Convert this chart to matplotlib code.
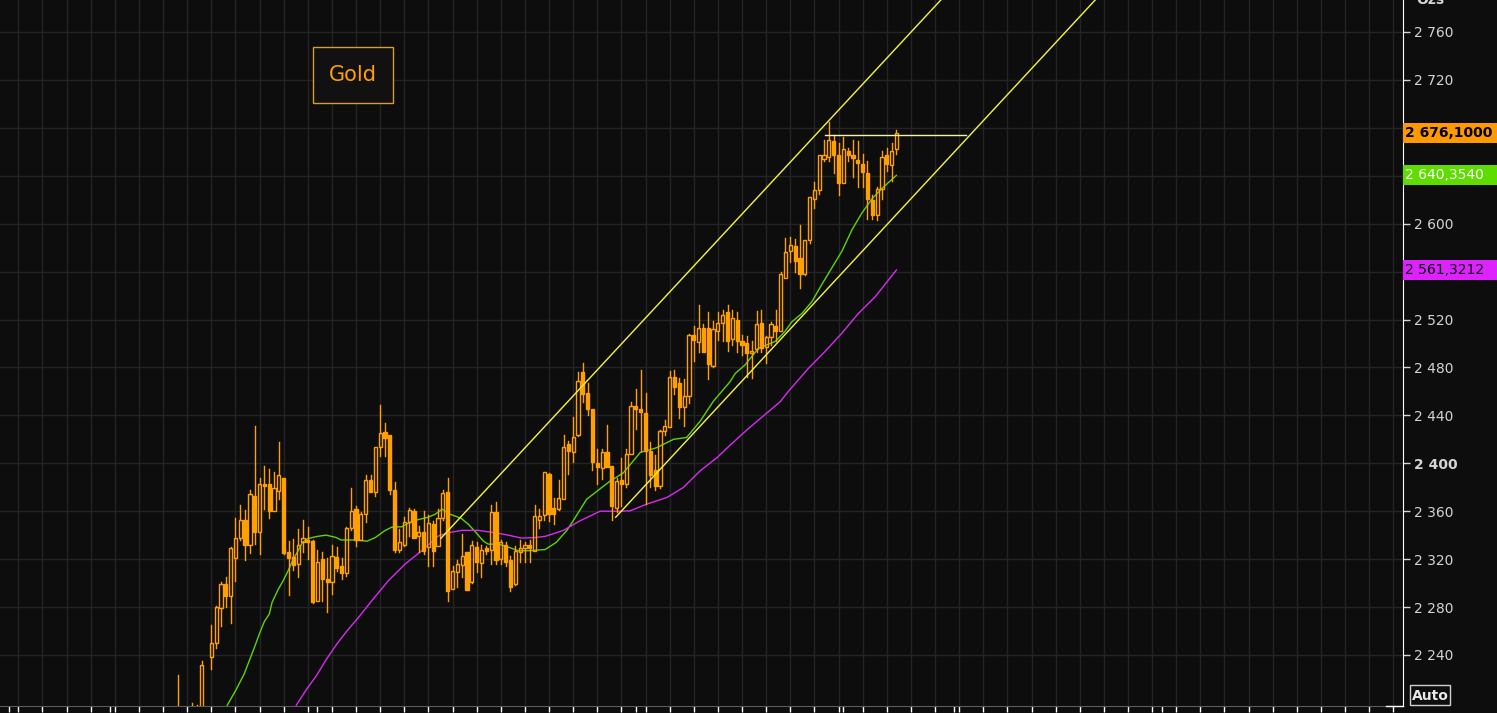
import numpy as np
import pandas as pd
import matplotlib
matplotlib.use("Agg")
import matplotlib.pyplot as plt
from matplotlib.patches import Rectangle
from matplotlib.lines import Line2D
from matplotlib.transforms import blended_transform_factory

# XAU/USD daily candles, 21 Mar - 16 Oct 2024 (no session on Good Friday)
dates = pd.bdate_range("2024-03-21", "2024-10-16").drop(pd.Timestamp("2024-03-29"))

opens = [2186, 2181, 2165, 2172, 2179, 2195,
         2238, 2250, 2279, 2299, 2289, 2321, 2338, 2353, 2332, 2373, 2343, 2383, 2383, 2360, 2377, 2388, 2326, 2322, 2316, 2334, 2336, 2335,
         2285, 2320, 2303, 2301, 2322, 2314, 2308, 2346, 2362, 2336, 2358, 2386, 2376, 2414, 2426, 2424, 2378, 2328, 2332, 2351, 2360, 2339, 2343,
         2330, 2349, 2331, 2354, 2376, 2295, 2309, 2315, 2326, 2301, 2330, 2317, 2329, 2328, 2359, 2320, 2332, 2319, 2299, 2326,
         2329, 2332, 2327, 2353, 2357, 2391, 2363, 2362, 2370, 2416, 2409, 2424, 2476, 2459, 2445, 2400, 2396, 2409, 2398, 2363, 2386, 2383, 2408,
         2448, 2445, 2442, 2410, 2394, 2381, 2427, 2430, 2472, 2467, 2447, 2456, 2507, 2501, 2513, 2513, 2481, 2510, 2517, 2526, 2504, 2520,
         2502, 2500, 2492, 2495, 2517, 2497, 2505, 2515, 2510, 2555, 2577, 2581, 2571, 2558, 2586, 2621, 2628, 2654, 2656, 2669, 2657,
         2634, 2661, 2657, 2653, 2650, 2642, 2620, 2607, 2629, 2657, 2649, 2662]
highs = [2223, 2190, 2176, 2200, 2198, 2235,
         2265, 2281, 2301, 2305, 2330, 2354, 2365, 2361, 2378, 2431, 2388, 2398, 2395, 2393, 2418, 2388, 2335, 2337, 2345, 2353, 2347, 2336,
         2328, 2326, 2321, 2332, 2330, 2321, 2347, 2379, 2364, 2359, 2390, 2390, 2414, 2449, 2434, 2424, 2384, 2345, 2355, 2363, 2362, 2348, 2360,
         2357, 2352, 2362, 2378, 2388, 2314, 2319, 2341, 2326, 2335, 2334, 2332, 2331, 2365, 2368, 2336, 2334, 2323, 2331, 2336,
         2334, 2336, 2365, 2362, 2393, 2392, 2371, 2386, 2424, 2419, 2439, 2476, 2484, 2467, 2445, 2412, 2412, 2432, 2398, 2388, 2404, 2412, 2451,
         2462, 2478, 2459, 2418, 2407, 2428, 2436, 2477, 2478, 2471, 2470, 2508, 2515, 2532, 2516, 2526, 2519, 2526, 2528, 2532, 2528, 2526,
         2507, 2506, 2502, 2527, 2528, 2506, 2518, 2528, 2560, 2588, 2589, 2587, 2599, 2586, 2622, 2635, 2657, 2670, 2685, 2674, 2667,
         2672, 2663, 2670, 2669, 2658, 2652, 2624, 2631, 2661, 2663, 2667, 2678]
lows = [2180, 2157, 2160, 2170, 2174, 2190,
        2228, 2246, 2264, 2280, 2267, 2302, 2336, 2319, 2325, 2333, 2324, 2362, 2354, 2360, 2370, 2324, 2290, 2311, 2305, 2326, 2320, 2283,
        2285, 2285, 2276, 2291, 2310, 2303, 2306, 2344, 2331, 2336, 2351, 2376, 2373, 2406, 2406, 2374, 2326, 2326, 2331, 2339, 2338, 2326, 2324,
        2314, 2314, 2331, 2353, 2285, 2295, 2297, 2305, 2294, 2300, 2309, 2305, 2324, 2316, 2316, 2316, 2314, 2293, 2298, 2318,
        2318, 2318, 2327, 2346, 2353, 2352, 2349, 2361, 2370, 2391, 2401, 2423, 2451, 2440, 2394, 2383, 2387, 2397, 2353, 2359, 2364, 2380, 2408,
        2429, 2410, 2366, 2380, 2378, 2379, 2424, 2430, 2458, 2438, 2431, 2450, 2485, 2493, 2493, 2470, 2480, 2503, 2502, 2494, 2499, 2493,
        2490, 2472, 2471, 2493, 2493, 2484, 2499, 2502, 2510, 2555, 2568, 2560, 2546, 2557, 2584, 2613, 2625, 2652, 2652, 2642, 2624,
        2634, 2652, 2639, 2631, 2631, 2604, 2604, 2603, 2621, 2644, 2636, 2658]
closes = [2181, 2165, 2172, 2179, 2195, 2232,
          2250, 2280, 2299, 2289, 2329, 2338, 2353, 2332, 2374, 2343, 2383, 2381, 2360, 2379, 2390, 2325, 2321, 2315, 2332, 2338, 2334, 2284,
          2318, 2303, 2301, 2323, 2313, 2308, 2346, 2360, 2336, 2358, 2386, 2376, 2414, 2425, 2421, 2378, 2328, 2334, 2351, 2361, 2338, 2343, 2327,
          2350, 2327, 2354, 2375, 2293, 2310, 2316, 2323, 2294, 2332, 2318, 2328, 2327, 2359, 2319, 2334, 2318, 2297, 2327, 2329,
          2332, 2329, 2356, 2356, 2393, 2358, 2358, 2371, 2414, 2410, 2422, 2469, 2458, 2445, 2401, 2397, 2409, 2397, 2364, 2385, 2383, 2408, 2448,
          2445, 2443, 2410, 2390, 2381, 2427, 2431, 2472, 2464, 2447, 2456, 2507, 2503, 2513, 2493, 2483, 2512, 2517, 2524, 2502, 2521, 2502,
          2499, 2492, 2494, 2516, 2496, 2505, 2516, 2510, 2558, 2576, 2582, 2569, 2558, 2586, 2622, 2628, 2657, 2657, 2670, 2657, 2634,
          2662, 2657, 2655, 2651, 2643, 2621, 2607, 2629, 2656, 2650, 2661, 2676.1]

# moving averages: trading-day offset from 1 Apr 2024, value
ma_fast_day = [3.3, 5.0, 6.8, 8.9, 10.0, 11.0, 12.0, 12.6, 13.9, 14.9, 16.0, 17.0, 18.0, 18.9, 19.9, 20.9,
               22.0, 23.8, 24.9, 25.9, 26.9, 29.9, 32.3, 34.0, 35.9, 37.4, 39.5, 40.8, 42.9, 45.0, 46.4,
               47.9, 49.1, 50.5, 51.8, 53.3, 54.9, 56.4, 57.4, 59.5, 61.6, 63.6, 65.7, 67.5, 69.2, 71.5,
               73.7, 75.0, 77.8, 82.6, 85.4, 88.9, 92.3, 95.8, 98.5, 101.3, 104.1, 107.5, 108.6, 110.6,
               113.4, 116.9, 118.9, 120.3, 122.4, 124.5, 126.5, 128.6, 130.7, 132.8, 134.8, 136.9, 139.0, 142.0]
ma_fast = [2198, 2210, 2224, 2246, 2258, 2268, 2274, 2284, 2295, 2302, 2311, 2320, 2327, 2334, 2337, 2338,
           2339, 2340, 2339, 2338, 2336, 2336, 2335, 2338, 2343.6, 2346.7, 2347, 2350, 2353, 2355, 2357.5,
           2361.7, 2358, 2356, 2354, 2349, 2342, 2335, 2332.5, 2332.5, 2330, 2327, 2327, 2327.5, 2328, 2334,
           2344, 2352, 2370, 2385, 2392, 2409, 2413, 2420, 2421.5, 2435, 2452, 2468, 2475, 2482,
           2496, 2501.7, 2510, 2518, 2525, 2535, 2549, 2563, 2577, 2595, 2608.6, 2620.6, 2629.4, 2640.354]
ma_slow_day = [17.6, 19.8, 21.8, 23.9, 26.0, 28.1, 30.8, 33.2, 36.7, 40.2, 43.6, 47.1, 49.1, 51.9, 55.3,
               58.8, 61.6, 64.3, 67.1, 69.2, 73.0, 76.4, 80.6, 84.7, 86.8, 90.3, 94.4, 97.8, 101.3, 104.8,
               107.5, 111.0, 117.9, 119.6, 123.8, 127.2, 130.7, 134.1, 137.6, 142.0]
ma_slow = [2198, 2211.7, 2222.8, 2236.7, 2249, 2260, 2272.8, 2285, 2302, 2316, 2327, 2339.4, 2342, 2344, 2344,
           2342, 2340, 2337.5, 2338, 2339, 2344, 2352, 2360, 2360, 2360.3, 2366, 2371.4, 2379.7, 2393.6, 2404.7,
           2415, 2427.8, 2451.4, 2460, 2479.4, 2493.3, 2508.6, 2525, 2539, 2561.3212]

# drawn trend channel and resistance line: (trading-day offset, price)
channel_top = [(47.6, 2337.4), (151.2, 2786.7)]
channel_bottom = [(83.8, 2354.9), (183.2, 2786.7)]
resistance = [(127.2, 2674.0), (156.4, 2674.0)]

price_ticks = list(range(2240, 2761, 40))
hidden_ticks = [2680, 2640, 2560]   # covered by the value badges
last_labels = [(2676.1, "2 676,1000", "#ff9900", "black", "bold"),
               (2640.354, "2 640,3540", "#5fdc00", "white", "normal"),
               (2561.3212, "2 561,3212", "#dd22ff", "black", "normal")]

ORANGE = "#ffa000"
BG = "#0d0d0d"
W, H = 1497, 713

fig = plt.figure(figsize=(W / 100, H / 100), dpi=100)
fig.patch.set_facecolor(BG)
ax = fig.add_axes([0, 7 / H, 1403 / W, 706 / H])
ax.set_facecolor(BG)

day = np.busday_count(np.datetime64("2024-04-01"), dates.values.astype("datetime64[D]"))
ax.set_xlim(-43.8, 247.0)
ax.set_ylim(2197.4, 2786.7)

# grid: weekly verticals on Mondays, price horizontals
weeks = np.arange(-40, 246, 5)
for w in weeks:
    ax.axvline(w, color="#242424", lw=1, zorder=0)
for p in price_ticks:
    ax.axhline(p, color="#242424", lw=1, zorder=0)

# candles
bw = 0.66
for d, o, h, l, c in zip(day, opens, highs, lows, closes):
    top, bot = max(o, c), min(o, c)
    ax.plot([d, d], [top, h], color=ORANGE, lw=1.0, zorder=3)
    ax.plot([d, d], [l, bot], color=ORANGE, lw=1.0, zorder=3)
    filled = c < o
    ax.add_patch(Rectangle((d - bw / 2, bot), bw, max(top - bot, 0.8),
                           facecolor=ORANGE if filled else "none",
                           edgecolor=ORANGE, lw=1.0, zorder=4))

ax.plot(ma_fast_day, ma_fast, color="#5fd400", lw=1.0, zorder=2)
ax.plot(ma_slow_day, ma_slow, color="#d62bf0", lw=1.0, zorder=2)

for line in (channel_top, channel_bottom):
    xs, ys = zip(*line)
    ax.plot(xs, ys, color="#f5f53a", lw=1.0, zorder=5)
xs, ys = zip(*resistance)
ax.plot(xs, ys, color="#f4f4b0", lw=1.0, zorder=5)

# axes styling
for s in ("top", "left"):
    ax.spines[s].set_visible(False)
ax.spines["right"].set_color("white")
ax.spines["bottom"].set_color("#5a5a5a")
ax.yaxis.tick_right()
ax.set_yticks(price_ticks)
ax.set_yticklabels(["" if p in hidden_ticks else f"{p:,}".replace(",", " ") for p in price_ticks])
ax.tick_params(axis="y", colors="#d4d4d4", length=5, width=1, labelsize=10, pad=3)
for lab in ax.get_yticklabels():
    if lab.get_text() == "2 400":
        lab.set_fontweight("bold")

month_starts = pd.date_range("2024-02-01", "2025-03-01", freq="BMS")
month_days = np.busday_count(np.datetime64("2024-04-01"), month_starts.values.astype("datetime64[D]"))
xt = sorted(set(weeks.tolist()) | set(month_days.tolist()))
ax.set_xticks(xt)
ax.set_xticklabels([])
ax.tick_params(axis="x", colors="white", length=4, width=1)

# value badges on the price axis
tr = blended_transform_factory(fig.transFigure, ax.transData)
for val, txt, bg, fg, fw in last_labels:
    ax.add_patch(Rectangle((1403 / W, val - 10 / 1.198), 94 / W, 20 / 1.198,
                           transform=tr, facecolor=bg, edgecolor="none", clip_on=False, zorder=6))
    ax.text(1405 / W, val, txt, transform=tr, color=fg, fontsize=10, fontweight=fw,
            ha="left", va="center", clip_on=False, zorder=7)

# "Gold" caption box
fig.add_artist(Rectangle((313 / W, 1 - 103 / H), 80 / W, 56 / H, transform=fig.transFigure,
                         facecolor="#111111", edgecolor="#d99a30", lw=1))
fig.text(353 / W, 1 - 75 / H, "Gold", color=ORANGE, fontsize=15, ha="center", va="center")

fig.text(1430 / W, 1 - 4 / H, "Ozs", color="#d4d4d4", fontsize=10, fontweight="bold",
         ha="center", va="baseline")
fig.add_artist(Rectangle((1410 / W, 1 - 705 / H), 40 / W, 20 / H, transform=fig.transFigure,
                         facecolor="none", edgecolor="#d0d0d0", lw=1))
fig.text(1430 / W, 1 - 695.5 / H, "Auto", color="#e8e8e8", fontsize=10, fontweight="bold",
         ha="center", va="center")
fig.add_artist(Line2D([1386 / W, 1403 / W], [1 - 706 / H, 1 - 706 / H], transform=fig.transFigure,
                      color="white", lw=1))

fig.savefig("out.png", dpi=100, facecolor=BG)
